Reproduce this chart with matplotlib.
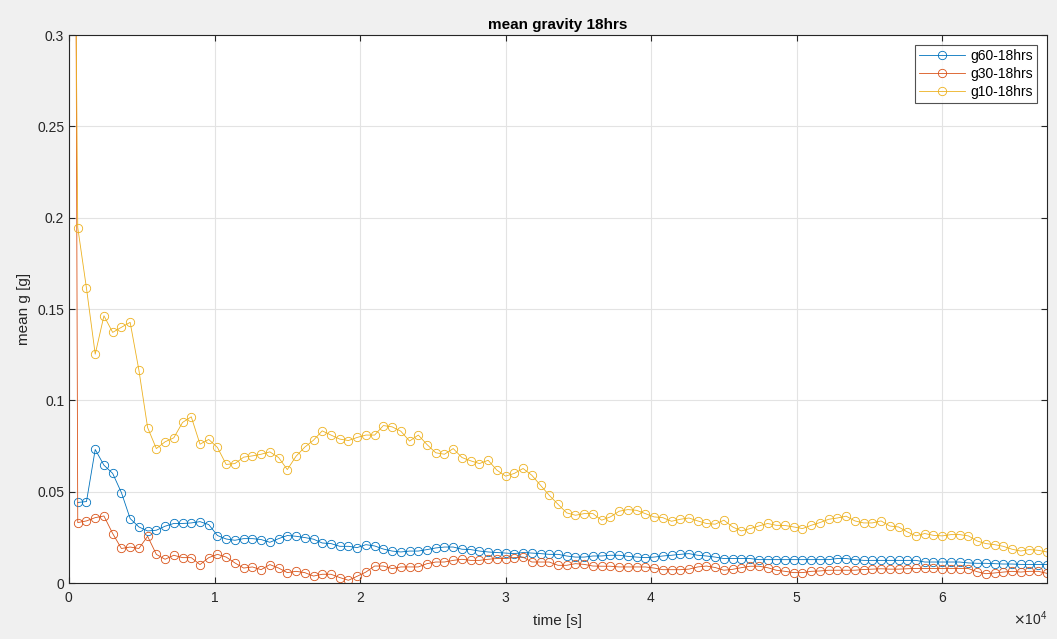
import matplotlib.pyplot as plt
import numpy as np

plt.rcParams['font.family'] = ['Liberation Sans', 'DejaVu Sans']

# sample times, one sample every 600 s
time_s = np.arange(0, 67800, 600)

g60 = [np.nan,
       0.0441, 0.0446, 0.0731, 0.0645, 0.0600, 0.0495, 0.0353, 0.0307, 0.0285, 0.0289,
       0.0311, 0.0326, 0.0326, 0.0329, 0.0336, 0.0320, 0.0260, 0.0241, 0.0234, 0.0243,
       0.0243, 0.0238, 0.0223, 0.0243, 0.0260, 0.0256, 0.0249, 0.0240, 0.0219, 0.0216,
       0.0201, 0.0201, 0.0194, 0.0210, 0.0203, 0.0186, 0.0175, 0.0170, 0.0175, 0.0175,
       0.0183, 0.0192, 0.0197, 0.0197, 0.0185, 0.0183, 0.0175, 0.0170, 0.0167, 0.0164,
       0.0161, 0.0167, 0.0164, 0.0161, 0.0157, 0.0157, 0.0148, 0.0142, 0.0142, 0.0148,
       0.0148, 0.0152, 0.0152, 0.0146, 0.0142, 0.0139, 0.0142, 0.0148, 0.0152, 0.0157,
       0.0161, 0.0152, 0.0148, 0.0142, 0.0134, 0.0134, 0.0134, 0.0134, 0.0128, 0.0128,
       0.0128, 0.0128, 0.0128, 0.0128, 0.0128, 0.0128, 0.0128, 0.0134, 0.0134, 0.0128,
       0.0124, 0.0124, 0.0124, 0.0124, 0.0124, 0.0124, 0.0124, 0.0115, 0.0115, 0.0115,
       0.0115, 0.0115, 0.0110, 0.0108, 0.0108, 0.0106, 0.0104, 0.0104, 0.0102, 0.0102,
       0.0101, 0.0101]

g30 = [1.5,
       0.0331, 0.0340, 0.0358, 0.0367, 0.0271, 0.0189, 0.0197, 0.0189, 0.0256, 0.0157,
       0.0130, 0.0152, 0.0139, 0.0139, 0.0101, 0.0139, 0.0157, 0.0142, 0.0110, 0.0082,
       0.0088, 0.0073, 0.0101, 0.0082, 0.0057, 0.0064, 0.0057, 0.0038, 0.0048, 0.0048,
       0.0030, 0.0015, 0.0037, 0.0060, 0.0093, 0.0093, 0.0079, 0.0088, 0.0088, 0.0088,
       0.0106, 0.0115, 0.0115, 0.0124, 0.0130, 0.0124, 0.0124, 0.0130, 0.0134, 0.0134,
       0.0139, 0.0142, 0.0115, 0.0115, 0.0115, 0.0097, 0.0097, 0.0106, 0.0102, 0.0093,
       0.0092, 0.0092, 0.0088, 0.0088, 0.0088, 0.0088, 0.0082, 0.0073, 0.0073, 0.0073,
       0.0076, 0.0088, 0.0093, 0.0085, 0.0070, 0.0075, 0.0084, 0.0092, 0.0092, 0.0084,
       0.0070, 0.0064, 0.0057, 0.0057, 0.0064, 0.0066, 0.0070, 0.0070, 0.0070, 0.0070,
       0.0074, 0.0076, 0.0078, 0.0076, 0.0076, 0.0078, 0.0080, 0.0080, 0.0080, 0.0079,
       0.0079, 0.0079, 0.0079, 0.0062, 0.0051, 0.0055, 0.0060, 0.0064, 0.0060, 0.0064,
       0.0064, 0.0053]

g10 = [0.8,
       0.1946, 0.1613, 0.1253, 0.1463, 0.1372, 0.1400, 0.1427, 0.1166, 0.0851, 0.0736,
       0.0773, 0.0795, 0.0879, 0.0910, 0.0760, 0.0786, 0.0742, 0.0649, 0.0654, 0.0689,
       0.0696, 0.0705, 0.0718, 0.0687, 0.0621, 0.0694, 0.0744, 0.0782, 0.0833, 0.0810,
       0.0788, 0.0780, 0.0797, 0.0810, 0.0810, 0.0862, 0.0855, 0.0831, 0.0777, 0.0810,
       0.0758, 0.0713, 0.0705, 0.0736, 0.0687, 0.0669, 0.0654, 0.0672, 0.0618, 0.0585,
       0.0600, 0.0627, 0.0590, 0.0535, 0.0480, 0.0431, 0.0384, 0.0371, 0.0380, 0.0380,
       0.0344, 0.0362, 0.0393, 0.0402, 0.0398, 0.0380, 0.0362, 0.0358, 0.0338, 0.0349,
       0.0356, 0.0340, 0.0326, 0.0322, 0.0344, 0.0307, 0.0285, 0.0298, 0.0312, 0.0326,
       0.0316, 0.0315, 0.0307, 0.0298, 0.0316, 0.0331, 0.0349, 0.0356, 0.0366, 0.0340,
       0.0329, 0.0329, 0.0340, 0.0312, 0.0307, 0.0280, 0.0258, 0.0271, 0.0261, 0.0258,
       0.0265, 0.0265, 0.0258, 0.0230, 0.0216, 0.0210, 0.0201, 0.0185, 0.0175, 0.0183,
       0.0179, 0.0170]

series = [(g60, 'g60-18hrs', '#0072BD'),
          (g30, 'g30-18hrs', '#D95319'),
          (g10, 'g10-18hrs', '#EDB120')]

fig = plt.figure(figsize=(10.57, 6.39), dpi=100, facecolor='#f0f0f0')
ax = fig.add_axes([0.0653, 0.0876, 0.9252, 0.8576])

for vals, name, col in series:
    ax.plot(time_s, vals, '-o', color=col, lw=0.6, markersize=6,
            markerfacecolor='none', markeredgewidth=0.6, label=name)

ax.set_xlim(0, 67200)
ax.set_ylim(0, 0.3)
ax.set_yticks(np.arange(0, 0.31, 0.05))
ax.set_yticklabels(['0', '0.05', '0.1', '0.15', '0.2', '0.25', '0.3'])
ax.ticklabel_format(axis='x', style='sci', scilimits=(4, 4), useMathText=True)
ax.xaxis.get_offset_text().set_fontsize(10)
ax.xaxis.get_offset_text().set_color('#262626')

ax.grid(True, color='#e3e3e3', linewidth=0.8)
ax.set_axisbelow(True)
ax.tick_params(direction='in', top=True, right=True, labelsize=10,
               colors='#262626', length=4)
ax.tick_params(axis='x', pad=6)
for s in ax.spines.values():
    s.set_color('#262626')
    s.set_linewidth(0.8)

ax.set_title('mean gravity 18hrs', fontsize=11, fontweight='bold', color='black', pad=4)
ax.set_xlabel('time [s]', fontsize=11, color='#262626', labelpad=6)
ax.set_ylabel('mean g [g]', fontsize=11, color='#262626')

leg = ax.legend(loc='upper right', fontsize=10, frameon=True, fancybox=False,
                edgecolor='#262626', borderaxespad=0.7, handlelength=3.3,
                labelspacing=0.3, borderpad=0.3, handletextpad=0.4)
leg.get_frame().set_linewidth(0.8)

fig.savefig('out.png', dpi=100, facecolor=fig.get_facecolor())
